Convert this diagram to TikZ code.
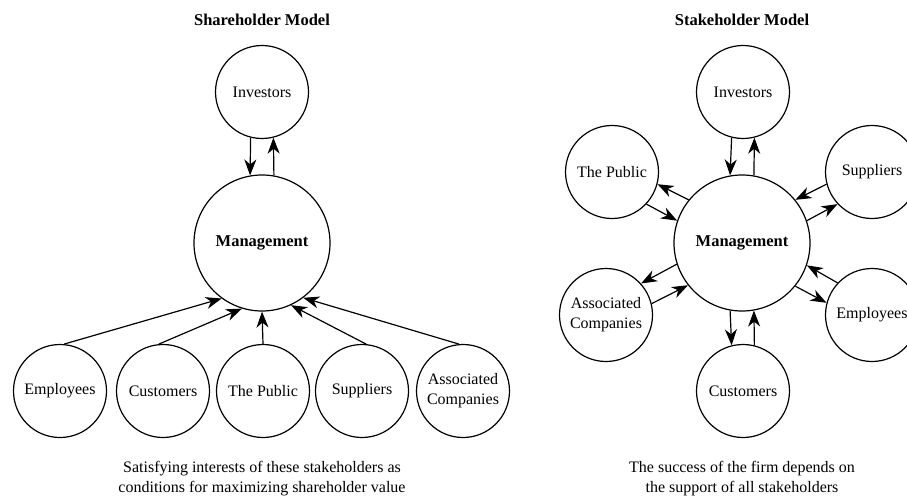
\documentclass[tikz,border=0pt]{standalone}
\usepackage{fontspec}
\setmainfont{Liberation Serif}
\usetikzlibrary{arrows.meta}
\tikzset{
    % Stakeholder circles
    party/.style={circle, draw, line width=1.2pt, minimum size=93pt, inner sep=0pt, align=center, font=\fontsize{16}{20}\selectfont},
    % Central management circle
    core/.style={party, minimum size=136pt, font=\fontsize{16.5}{18}\selectfont\bfseries},
    % Flow arrows between circles
    flow/.style={line width=1.2pt, -{Stealth[length=16pt, width=12pt, inset=5pt]}},
    % Model titles and captions
    heading/.style={font=\fontsize{16.5}{18}\selectfont\bfseries},
    caption/.style={align=center, font=\fontsize{16}{20}\selectfont}
}

\begin{document}
\begin{tikzpicture}[x=1pt, y=-1pt]
    \useasboundingbox (0,0) rectangle (907,500);

    % --- Shareholder model (left) ---
    \node[heading] (title1) at (262,20) {Shareholder Model};
    \node[party] (inv1) at (262,92) {Investors};
    \node[core] (M1) at (262,243) {Management};
    \node[party] (emp1) at (60,391) {Employees};
    \node[party] (cus1) at (163,391) {Customers};
    \node[party] (pub1) at (263,391) {The Public};
    \node[party] (sup1) at (362,391) {Suppliers};
    \node[party] (asc1) at (463,391) {Associated\\Companies};

    \draw[flow] (inv1.256) -- (M1.100);
    \draw[flow] (M1.80) -- (inv1.284);
    \draw[flow] (emp1.85) -- (M1.234);
    \draw[flow] (cus1.95) -- (M1.253);
    \draw[flow] (pub1.north) -- (M1.south);
    \draw[flow] (sup1.85) -- (M1.295);
    \draw[flow] (asc1.95) -- (M1.307);

    \node[caption] (cap1) at (262,479) {Satisfying interests of these stakeholders as\\conditions for maximizing shareholder value};

    % --- Stakeholder model (right) ---
    \node[heading] (title2) at (742,20) {Stakeholder Model};
    \node[core] (M2) at (742,243) {Management};
    \node[party] (inv2) at (743,92) {Investors};
    \node[party] (pub2) at (612,172) {The Public};
    \node[party] (sup2) at (872,172) {Suppliers};
    \node[party] (asc2) at (606,315) {Associated\\Companies};
    \node[party] (emp2) at (872,315) {Employees};
    \node[party] (cus2) at (743,391) {Customers};

    % outward arrow on the clockwise side, inward arrow on the other
    \draw[flow] (M2.80) -- (inv2.284);
    \draw[flow] (inv2.256) -- (M2.100);
    \draw[flow] (M2.141) -- (pub2.345);
    \draw[flow] (pub2.317) -- (M2.161);
    \draw[flow] (M2.19) -- (sup2.223);
    \draw[flow] (sup2.195) -- (M2.39);
    \draw[flow] (M2.198) -- (asc2.42);
    \draw[flow] (asc2.14) -- (M2.218);
    \draw[flow] (M2.321) -- (emp2.165);
    \draw[flow] (emp2.137) -- (M2.341);
    \draw[flow] (M2.260) -- (cus2.104);
    \draw[flow] (cus2.76) -- (M2.280);

    \node[caption] (cap2) at (742,479) {The success of the firm depends on\\the support of all stakeholders};
\end{tikzpicture}
\end{document}
